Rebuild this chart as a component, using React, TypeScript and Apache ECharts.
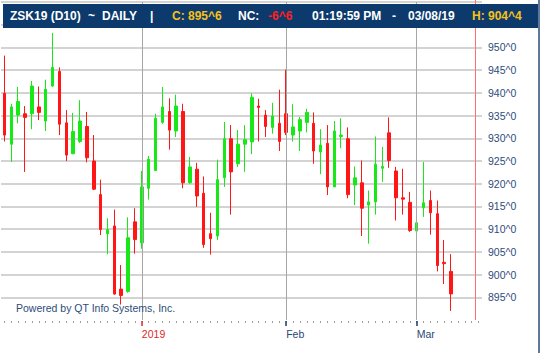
import React, { useEffect, useRef } from 'react';
import * as echarts from 'echarts';

// Trading days (last four are empty future sessions on the axis)
const dates = [
  '2018-11-30',
  '2018-12-03', '2018-12-04', '2018-12-06', '2018-12-07', '2018-12-10', '2018-12-11', '2018-12-12',
  '2018-12-13', '2018-12-14', '2018-12-17', '2018-12-18', '2018-12-19', '2018-12-20', '2018-12-21',
  '2018-12-24', '2018-12-26', '2018-12-27', '2018-12-28', '2018-12-31',
  '2019-01-02', '2019-01-03', '2019-01-04', '2019-01-07', '2019-01-08', '2019-01-09', '2019-01-10',
  '2019-01-11', '2019-01-14', '2019-01-15', '2019-01-16', '2019-01-17', '2019-01-18', '2019-01-22',
  '2019-01-23', '2019-01-24', '2019-01-25', '2019-01-28', '2019-01-29', '2019-01-30', '2019-01-31',
  '2019-02-01', '2019-02-04', '2019-02-05', '2019-02-06', '2019-02-07', '2019-02-08', '2019-02-11',
  '2019-02-12', '2019-02-13', '2019-02-14', '2019-02-15', '2019-02-19', '2019-02-20', '2019-02-21',
  '2019-02-22', '2019-02-25', '2019-02-26', '2019-02-27', '2019-02-28',
  '2019-03-01', '2019-03-04', '2019-03-05', '2019-03-06', '2019-03-07', '2019-03-08',
  '2019-03-11', '2019-03-12', '2019-03-13', '2019-03-14',
];

const opens = [
  939.9, 928.7, 935.1, 935.4, 935.4, 936.9, 933.8, 941.5, 944.7, 933.4,
  926.6, 929.3, 932.6, 925.0, 917.6, 909.0, 910.7, 896.8, 896.3, 911.6,
  907.0, 919.0, 922.9, 933.5, 935.9, 931.6, 935.9, 920.2, 923.2, 917.9,
  909.0, 908.5, 921.3, 929.9, 924.4, 928.7, 929.2, 937.1, 935.1, 932.4,
  933.3, 935.4, 930.7, 931.6, 933.5, 933.3, 927.0, 928.9, 919.3, 930.4,
  929.9, 919.7, 920.2, 915.3, 916.0, 923.4, 931.2, 922.8, 916.9, 915.9,
  909.6, 914.7, 916.3, 913.4, 902.7, 900.7,
];
const closes = [
  930.7, 936.9, 938.1, 934.6, 941.5, 935.7, 940.8, 945.6, 933.1, 926.3,
  931.5, 933.8, 925.7, 918.8, 909.9, 909.9, 895.7, 895.4, 908.1, 907.7,
  919.3, 925.4, 934.4, 936.9, 931.8, 937.1, 920.2, 923.7, 917.3, 906.6,
  907.9, 920.9, 929.9, 922.6, 928.7, 929.7, 939.0, 936.8, 932.6, 934.9,
  929.3, 931.3, 932.5, 934.1, 935.7, 927.2, 928.5, 919.3, 931.6, 930.7,
  917.6, 921.3, 914.6, 916.0, 924.3, 923.8, 925.1, 916.9, 916.6, 909.7,
  911.4, 915.8, 913.6, 902.0, 902.4, 895.75,
];
const lows = [
  929.3, 924.8, 933.3, 922.6, 932.0, 934.0, 931.6, 941.3, 930.7, 925.0,
  926.5, 929.0, 924.7, 918.6, 908.7, 904.5, 895.6, 893.4, 896.0, 904.6,
  905.7, 916.5, 922.8, 933.2, 927.5, 930.3, 919.0, 920.0, 914.9, 905.9,
  904.4, 907.6, 919.3, 913.2, 923.7, 922.6, 926.5, 929.3, 930.3, 931.0,
  927.2, 930.7, 929.3, 927.2, 931.3, 924.4, 922.1, 917.5, 919.3, 927.8,
  916.8, 915.3, 908.5, 906.8, 913.2, 920.4, 923.5, 911.9, 913.2, 909.4,
  900.1, 912.7, 908.8, 900.7, 897.9, 892.0,
];
const highs = [
  948.2, 937.6, 941.3, 937.1, 942.6, 941.4, 942.9, 953.2, 945.6, 936.2,
  935.6, 938.4, 935.8, 930.7, 920.9, 912.4, 914.3, 902.1, 912.6, 914.6,
  922.8, 926.1, 935.4, 941.3, 938.8, 939.6, 937.6, 925.9, 924.6, 921.6,
  913.6, 925.3, 933.6, 932.9, 931.8, 932.9, 939.9, 938.7, 936.2, 937.8,
  940.7, 945.1, 937.5, 934.7, 936.5, 935.7, 932.0, 932.9, 933.8, 934.4,
  932.4, 923.8, 925.1, 918.5, 930.4, 928.1, 934.6, 923.7, 923.3, 918.2,
  918.0, 924.8, 918.5, 916.3, 907.6, 904.5,
];

const yMin = 890;
const yMax = 960;
const yStep = 5;
const yLabelMin = 895;
const yLabelMax = 950;

const monthLabels: Record<string, string> = {
  '2019-02-01': 'Feb',
  '2019-03-01': 'Mar',
};
const yearLabels: Record<string, string> = {
  '2019-01-02': '2019',
};
const monthStarts = ['2019-01-02', '2019-02-01', '2019-03-01'];
const markerDate = '2019-03-13'; // red marker sits after this session

const headerItems = [
  { text: 'ZSK19 (D10)', color: '#ffffff', x: 10 },
  { text: '~', color: '#ffffff', x: 88 },
  { text: 'DAILY', color: '#ffffff', x: 102 },
  { text: '|', color: '#ffffff', x: 150 },
  { text: 'C: 895^6', color: '#f6c11a', x: 172 },
  { text: 'NC:', color: '#ffffff', x: 238 },
  { text: '-6^6', color: '#ff2020', x: 268 },
  { text: '01:19:59 PM', color: '#ffffff', x: 312 },
  { text: '-', color: '#ffffff', x: 392 },
  { text: '03/08/19', color: '#ffffff', x: 408 },
  { text: 'H: 904^4', color: '#f6c11a', x: 472 },
];

function fmtPrice(v: number): string {
  const w = Math.floor(v + 1e-9);
  const e = Math.round((v - w) * 8);
  return `${w}^${e}`;
}

const FONT = 'Arial, "Liberation Sans", sans-serif';

export default function App() {
  const ref = useRef<HTMLDivElement>(null);

  useEffect(() => {
    if (!ref.current) return;
    const chart = echarts.init(ref.current, null, { renderer: 'svg' });
    const candles = opens.map((o, i) => [o, closes[i], lows[i], highs[i]]);
    const green = '#18e818';
    const red = '#ff1616';

    const baseX = {
      type: 'category' as const,
      data: dates,
      boundaryGap: true,
      gridIndex: 0,
      position: 'bottom' as const,
      axisLine: { show: false },
      splitLine: { show: false },
    };

    chart.setOption({
      animation: false,
      grid: { left: 1, right: 64, top: 2, bottom: 43, containLabel: false },
      xAxis: [
        {
          ...baseX,
          offset: 1,
          axisTick: { show: true, alignWithLabel: true, interval: 0, length: 2, lineStyle: { color: '#a0a0a0', width: 1 } },
          axisLabel: { show: false },
        },
        {
          ...baseX,
          offset: 1,
          axisTick: {
            show: true, alignWithLabel: true, length: 5,
            interval: (_i: number, v: string) => v in monthLabels,
            lineStyle: { color: '#1f3864', width: 1.5 },
          },
          axisLabel: {
            show: true,
            interval: (_i: number, v: string) => v in monthLabels,
            formatter: (v: string) => monthLabels[v] || '',
            color: '#2a4777', fontSize: 10.5, fontFamily: FONT, align: 'left', margin: 7,
          },
        },
        {
          ...baseX,
          offset: 1,
          axisTick: {
            show: true, alignWithLabel: true, length: 5,
            interval: (_i: number, v: string) => v in yearLabels,
            lineStyle: { color: '#e0262b', width: 1.5 },
          },
          axisLabel: {
            show: true,
            interval: (_i: number, v: string) => v in yearLabels,
            formatter: (v: string) => yearLabels[v] || '',
            color: '#e0262b', fontSize: 10.5, fontFamily: FONT, align: 'left', margin: 7,
          },
        },
      ],
      yAxis: {
        type: 'value',
        position: 'right',
        min: yMin,
        max: yMax,
        interval: yStep,
        axisLine: { show: false },
        axisTick: { show: false },
        axisLabel: {
          formatter: (v: number) => (v >= yLabelMin && v <= yLabelMax ? fmtPrice(v) : ''),
          color: '#2e4c7c', fontSize: 10.5, fontFamily: FONT, margin: 6,
          showMinLabel: false, showMaxLabel: false,
        },
        splitLine: { show: true, showMinLine: false, lineStyle: { color: '#c4c4c4', width: 1.5 } },
      },
      series: [
        {
          type: 'candlestick',
          xAxisIndex: 0,
          data: candles,
          barWidth: 3,
          itemStyle: {
            color: green, color0: red,
            borderColor: green, borderColor0: red,
            borderWidth: 1,
          },
          markLine: {
            silent: true,
            symbol: 'none',
            label: { show: false },
            lineStyle: { color: '#a6a6a6', width: 1, type: 'solid' },
            data: monthStarts.map((d) => ({ xAxis: d })),
          },
        },
      ],
    });

    const mi = dates.indexOf(markerDate);
    const xa = chart.convertToPixel({ xAxisIndex: 0 }, dates[mi]) as number;
    const xb = chart.convertToPixel({ xAxisIndex: 0 }, dates[mi + 1]) as number;
    const redX = Math.round((xa + xb) / 2) + 0.5;
    const yBot = chart.convertToPixel({ yAxisIndex: 0 }, yMin) as number;

    chart.setOption({
      graphic: [
        {
          type: 'line', z: 5, silent: true,
          shape: { x1: redX, y1: 0, x2: redX, y2: yBot },
          style: { stroke: '#ff7070', lineWidth: 1 },
        },
        {
          type: 'line', z: 5, silent: true,
          shape: { x1: 539, y1: 0, x2: 539, y2: 353 },
          style: { stroke: '#2a4a78', lineWidth: 1.5 },
        },
        {
          type: 'rect', z: 50, silent: true,
          shape: { x: 3, y: 4, width: 535, height: 24 },
          style: { fill: '#0c3a6c' },
        },
        ...headerItems.map((h) => ({
          type: 'text', z: 51, silent: true,
          x: h.x, y: 16,
          style: {
            text: h.text, fill: h.color, font: `bold 12px ${FONT}`,
            align: 'left', verticalAlign: 'middle',
            textAlign: 'left', textVerticalAlign: 'middle',
          },
        })),
        {
          type: 'text', z: 20, silent: true,
          x: 16, y: 308,
          style: {
            text: 'Powered by QT Info Systems, Inc.', fill: '#2d4d7b', font: `10.5px ${FONT}`,
            align: 'left', verticalAlign: 'middle',
            textAlign: 'left', textVerticalAlign: 'middle',
          },
        },
      ],
    });

    return () => chart.dispose();
  }, []);

  return (
    <div
      ref={ref}
      style={{ position: 'fixed', left: 0, top: 0, width: 546, height: 363, background: '#ffffff' }}
    />
  );
}
